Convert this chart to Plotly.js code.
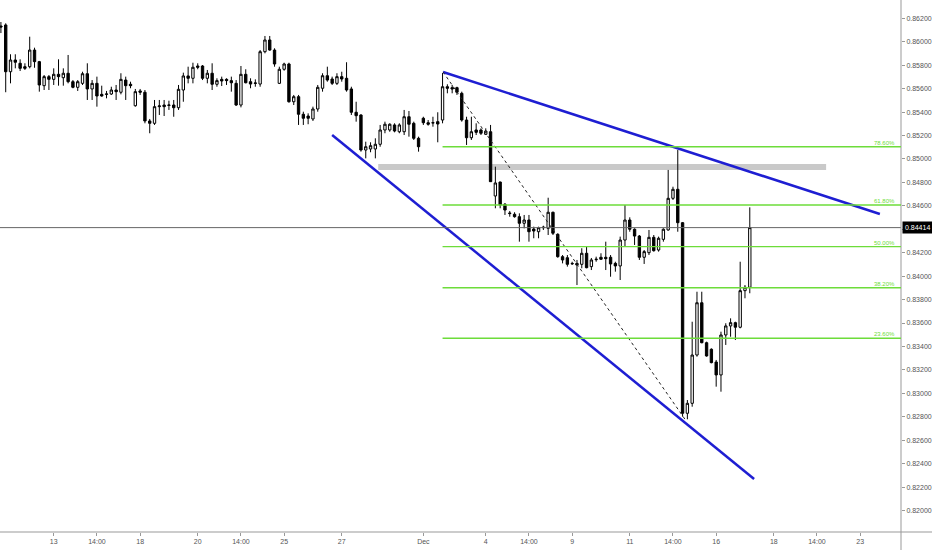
<!DOCTYPE html>
<html>
<head>
<meta charset="utf-8">
<script src="https://cdn.plot.ly/plotly-3.0.1.min.js"></script>
<style>html,body{margin:0;padding:0;background:#fff;}#chart{width:932px;height:550px;}</style>
</head>
<body>
<div id="chart"></div>
<script>
// 4-hour candles, index of the first candle on the axis
var firstIndex = -1;

var openP = [
0.86134,0.86143,0.85744,0.85844,0.85816,0.85787,0.85787,0.85929,0.85830,0.85625,
0.85702,0.85679,0.85722,0.85693,0.85731,0.85659,0.85611,0.85645,0.85727,0.85597,
0.85645,0.85551,0.85551,0.85554,0.85588,0.85569,0.85673,0.85637,0.85454,0.85580,
0.85569,0.85324,0.85304,0.85446,0.85460,0.85456,0.85460,0.85437,0.85588,0.85708,
0.85688,0.85793,0.85793,0.85688,0.85731,0.85637,0.85679,0.85679,0.85668,0.85645,
0.85460,0.85722,0.85659,0.85644,0.85639,0.85915,0.86015,0.85929,0.85645,0.85765,
0.85810,0.85488,0.85531,0.85381,0.85366,0.85341,0.85426,0.85603,0.85710,0.85682,
0.85645,0.85702,0.85688,0.85597,0.85398,0.85375,0.85076,0.85085,0.85085,0.85125,
0.85247,0.85247,0.85290,0.85232,0.85232,0.85360,0.85304,0.85176,0.85347,0.85309,
0.85307,0.85318,0.85332,0.85616,0.85608,0.85608,0.85560,0.85332,0.85181,0.85247,
0.85247,0.85210,0.85232,0.84684,0.84803,0.84613,0.84539,0.84528,0.84507,0.84451,
0.84479,0.84402,0.84379,0.84413,0.84408,0.84545,0.84357,0.84166,0.84157,0.84109,
0.84109,0.84101,0.84195,0.84081,0.84140,0.84161,0.84161,0.84161,0.84109,0.84087,
0.84308,0.84479,0.84400,0.84342,0.84161,0.84200,0.84331,0.84223,0.84314,0.84394,
0.84664,0.84741,0.84456,0.82830,0.82915,0.83327,0.83773,0.83432,0.83376,0.83267,
0.83157,0.83498,0.83575,0.83603,0.83564,0.83876,0.83905];

var highP = [
0.86168,0.86157,0.85893,0.85893,0.85850,0.85816,0.86043,0.85949,0.85836,0.85716,
0.85716,0.85773,0.85850,0.85773,0.85887,0.85673,0.85673,0.85744,0.85816,0.85673,
0.85702,0.85625,0.85580,0.85616,0.85631,0.85731,0.85702,0.85659,0.85597,0.85597,
0.85588,0.85341,0.85503,0.85503,0.85503,0.85497,0.85503,0.85631,0.85736,0.85787,
0.85821,0.85816,0.85801,0.85759,0.85816,0.85688,0.85702,0.85688,0.85702,0.85673,
0.85793,0.85765,0.85688,0.85679,0.85929,0.86049,0.86049,0.85944,0.85787,0.85821,
0.85821,0.85546,0.85546,0.85403,0.85389,0.85446,0.85631,0.85731,0.85787,0.85702,
0.85731,0.85744,0.85825,0.85616,0.85488,0.85381,0.85147,0.85142,0.85176,0.85290,
0.85318,0.85304,0.85304,0.85304,0.85418,0.85409,0.85318,0.85190,0.85360,0.85332,
0.85360,0.85398,0.85733,0.85637,0.85631,0.85616,0.85574,0.85360,0.85360,0.85304,
0.85261,0.85261,0.85290,0.84934,0.84806,0.84624,0.84556,0.84545,0.84536,0.84522,
0.84522,0.84422,0.84422,0.84430,0.84669,0.84550,0.84366,0.84180,0.84180,0.84123,
0.84138,0.84238,0.84251,0.84155,0.84166,0.84195,0.84294,0.84180,0.84123,0.84337,
0.84607,0.84502,0.84408,0.84351,0.84223,0.84394,0.84351,0.84337,0.84408,0.84906,
0.84763,0.85076,0.84462,0.82943,0.83611,0.83867,0.83867,0.83441,0.83384,0.83285,
0.83526,0.83598,0.83640,0.83611,0.84123,0.83924,0.84587];

var lowP = [
0.86074,0.85569,0.85645,0.85773,0.85750,0.85759,0.85773,0.85778,0.85574,0.85588,
0.85588,0.85631,0.85625,0.85625,0.85645,0.85603,0.85580,0.85631,0.85503,0.85503,
0.85446,0.85531,0.85517,0.85546,0.85503,0.85551,0.85503,0.85603,0.85446,0.85546,
0.85304,0.85219,0.85290,0.85375,0.85366,0.85418,0.85360,0.85418,0.85488,0.85645,
0.85645,0.85765,0.85673,0.85645,0.85588,0.85616,0.85622,0.85631,0.85574,0.85452,
0.85440,0.85645,0.85603,0.85616,0.85616,0.85901,0.85923,0.85787,0.85639,0.85753,
0.85480,0.85460,0.85290,0.85290,0.85296,0.85324,0.85403,0.85574,0.85659,0.85631,
0.85631,0.85659,0.85574,0.85375,0.85318,0.85062,0.85005,0.85057,0.85005,0.85104,
0.85219,0.85232,0.85227,0.85219,0.85204,0.85190,0.85162,0.85062,0.85290,0.85284,
0.85275,0.85142,0.85304,0.85560,0.85560,0.85546,0.85318,0.85119,0.85162,0.85204,
0.85204,0.85204,0.84803,0.84579,0.84579,0.84522,0.84507,0.84499,0.84294,0.84408,
0.84294,0.84323,0.84323,0.84394,0.84351,0.84351,0.84157,0.84109,0.84081,0.84095,
0.83924,0.84067,0.84067,0.84052,0.84123,0.84138,0.84052,0.83995,0.84038,0.83967,
0.84251,0.84379,0.84266,0.84138,0.84104,0.84180,0.84209,0.84209,0.84294,0.84388,
0.84650,0.84379,0.82801,0.82779,0.82886,0.83313,0.83427,0.83313,0.83256,0.83057,
0.83014,0.83413,0.83483,0.83455,0.83555,0.83811,0.83854];

var closeP = [
0.86126,0.85744,0.85844,0.85825,0.85773,0.85773,0.85929,0.85830,0.85631,0.85702,
0.85679,0.85722,0.85702,0.85731,0.85659,0.85611,0.85659,0.85727,0.85597,0.85645,
0.85537,0.85537,0.85554,0.85588,0.85574,0.85679,0.85625,0.85625,0.85574,0.85569,
0.85324,0.85304,0.85446,0.85452,0.85446,0.85460,0.85437,0.85594,0.85708,0.85688,
0.85782,0.85782,0.85688,0.85731,0.85637,0.85668,0.85665,0.85668,0.85650,0.85460,
0.85722,0.85650,0.85639,0.85648,0.85915,0.86015,0.85929,0.85810,0.85765,0.85810,
0.85488,0.85531,0.85381,0.85347,0.85347,0.85426,0.85611,0.85710,0.85673,0.85645,
0.85702,0.85682,0.85588,0.85398,0.85369,0.85076,0.85104,0.85113,0.85125,0.85247,
0.85296,0.85296,0.85238,0.85290,0.85360,0.85296,0.85176,0.85104,0.85309,0.85296,
0.85309,0.85298,0.85616,0.85603,0.85597,0.85569,0.85332,0.85181,0.85232,0.85227,
0.85219,0.85238,0.84806,0.84795,0.84607,0.84564,0.84534,0.84507,0.84451,0.84479,
0.84379,0.84385,0.84413,0.84417,0.84545,0.84366,0.84166,0.84138,0.84101,0.84106,
0.84095,0.84195,0.84072,0.84138,0.84144,0.84144,0.84149,0.84104,0.84087,0.84308,
0.84479,0.84400,0.84342,0.84161,0.84209,0.84331,0.84217,0.84323,0.84400,0.84664,
0.84741,0.84456,0.82830,0.82915,0.83327,0.83773,0.83432,0.83319,0.83262,0.83157,
0.83498,0.83575,0.83603,0.83564,0.83876,0.83905,0.84414];

// x-axis tick labels (candle index positions)
var tickIdx  = [10, 19, 28, 40, 49, 58, 70, 87, 100, 109, 118, 130, 139, 148, 160, 169, 178];
var tickText = ["13","14:00","18","20","14:00","25","27","Dec","4","14:00","9","11","14:00","16","18","14:00","23"];

// Fibonacci retracement levels
var fibLevels = [0.85104, 0.84607, 0.84251, 0.83901, 0.83470];
var fibLabels = ["78.60%", "61.80%", "50.00%", "38.20%", "23.60%"];
var fibSpan   = [91, 186.5];
var fibLabelAt = 185.7;

// Resistance zone
var zoneSpan  = [77.6, 170.9];
var zonePrice = [0.84906, 0.84957];

// Wedge trendlines and swing line
var upperX = [91.1, 182.1],  upperY = [0.85742, 0.84530];
var lowerX = [68.0, 155.9],  lowerY = [0.85204, 0.82269];
var swingX = [91.1, 141.5],  swingY = [0.85742, 0.82779];

var xIdx = openP.map(function(_, i){ return i + firstIndex; });
var lastPrice = closeP[closeP.length - 1];

var green = '#6ddc3a';
var blue = '#1e1ed2';

var traces = [
  {
    type: 'candlestick', x: xIdx, open: openP, high: highP, low: lowP, close: closeP,
    increasing: {line: {color: '#000', width: 1}, fillcolor: '#ffffff'},
    decreasing: {line: {color: '#000', width: 1}, fillcolor: '#000000'},
    whiskerwidth: 0, hoverinfo: 'skip', showlegend: false
  },
  {type: 'scatter', mode: 'lines', x: upperX, y: upperY, line: {color: blue, width: 2.5}, hoverinfo: 'skip', showlegend: false},
  {type: 'scatter', mode: 'lines', x: lowerX, y: lowerY, line: {color: blue, width: 2.5}, hoverinfo: 'skip', showlegend: false},
  {type: 'scatter', mode: 'lines', x: swingX, y: swingY, line: {color: '#222', width: 1, dash: 'dot'}, hoverinfo: 'skip', showlegend: false}
];

var shapes = [
  {type: 'rect', xref: 'x', yref: 'y', x0: zoneSpan[0], x1: zoneSpan[1], y0: zonePrice[0], y1: zonePrice[1],
   fillcolor: '#c9c9c9', line: {width: 0}, layer: 'below'},
  {type: 'line', xref: 'paper', yref: 'y', x0: 0, x1: 1, y0: lastPrice, y1: lastPrice, line: {color: '#666', width: 1}},
  {type: 'line', xref: 'paper', yref: 'paper', x0: 0, x1: 1.035, y0: 0, y1: 0, line: {color: '#999', width: 1}},
  {type: 'line', xref: 'paper', yref: 'paper', x0: 1, x1: 1, y0: -0.04, y1: 1, line: {color: '#999', width: 1}}
];
var annotations = [];
fibLevels.forEach(function(lv, i){
  shapes.push({type: 'line', xref: 'x', yref: 'y', x0: fibSpan[0], x1: fibSpan[1], y0: lv, y1: lv, line: {color: green, width: 1.3}});
  annotations.push({xref: 'x', yref: 'y', x: fibLabelAt, y: lv, xanchor: 'right', yanchor: 'bottom', text: fibLabels[i],
    showarrow: false, font: {family: 'Liberation Sans, Arial, sans-serif', size: 6, color: green}, yshift: -1});
});
annotations.push({xref: 'paper', yref: 'y', x: 1, y: lastPrice, xanchor: 'left', yanchor: 'middle',
  text: lastPrice.toFixed(5), showarrow: false, bgcolor: '#000', borderpad: 2, xshift: 1,
  font: {family: 'Liberation Sans, Arial, sans-serif', size: 7, color: '#fff'}});

var layout = {
  width: 932, height: 550,
  margin: {l: 0, r: 31, t: 0, b: 18, pad: 0},
  paper_bgcolor: '#fff', plot_bgcolor: '#fff',
  showlegend: false,
  font: {family: 'Liberation Sans, Arial, sans-serif', size: 7, color: '#555'},
  xaxis: {
    range: [-1.19, 186.5], tickmode: 'array', tickvals: tickIdx, ticktext: tickText,
    ticks: 'outside', ticklen: 3, tickcolor: '#999', showgrid: false, zeroline: false, showline: false,
    tickfont: {size: 7, color: '#555'}, rangeslider: {visible: false}, fixedrange: true
  },
  yaxis: {
    side: 'right', range: [0.81817, 0.86356], tick0: 0.82, dtick: 0.002, tickformat: '.5f',
    ticks: 'outside', ticklen: 3, tickcolor: '#999', showgrid: false, zeroline: false, showline: false,
    tickfont: {size: 7, color: '#555'}, fixedrange: true
  },
  shapes: shapes,
  annotations: annotations
};

Plotly.newPlot('chart', traces, layout, {staticPlot: true, displayModeBar: false});
</script>
</body>
</html>
